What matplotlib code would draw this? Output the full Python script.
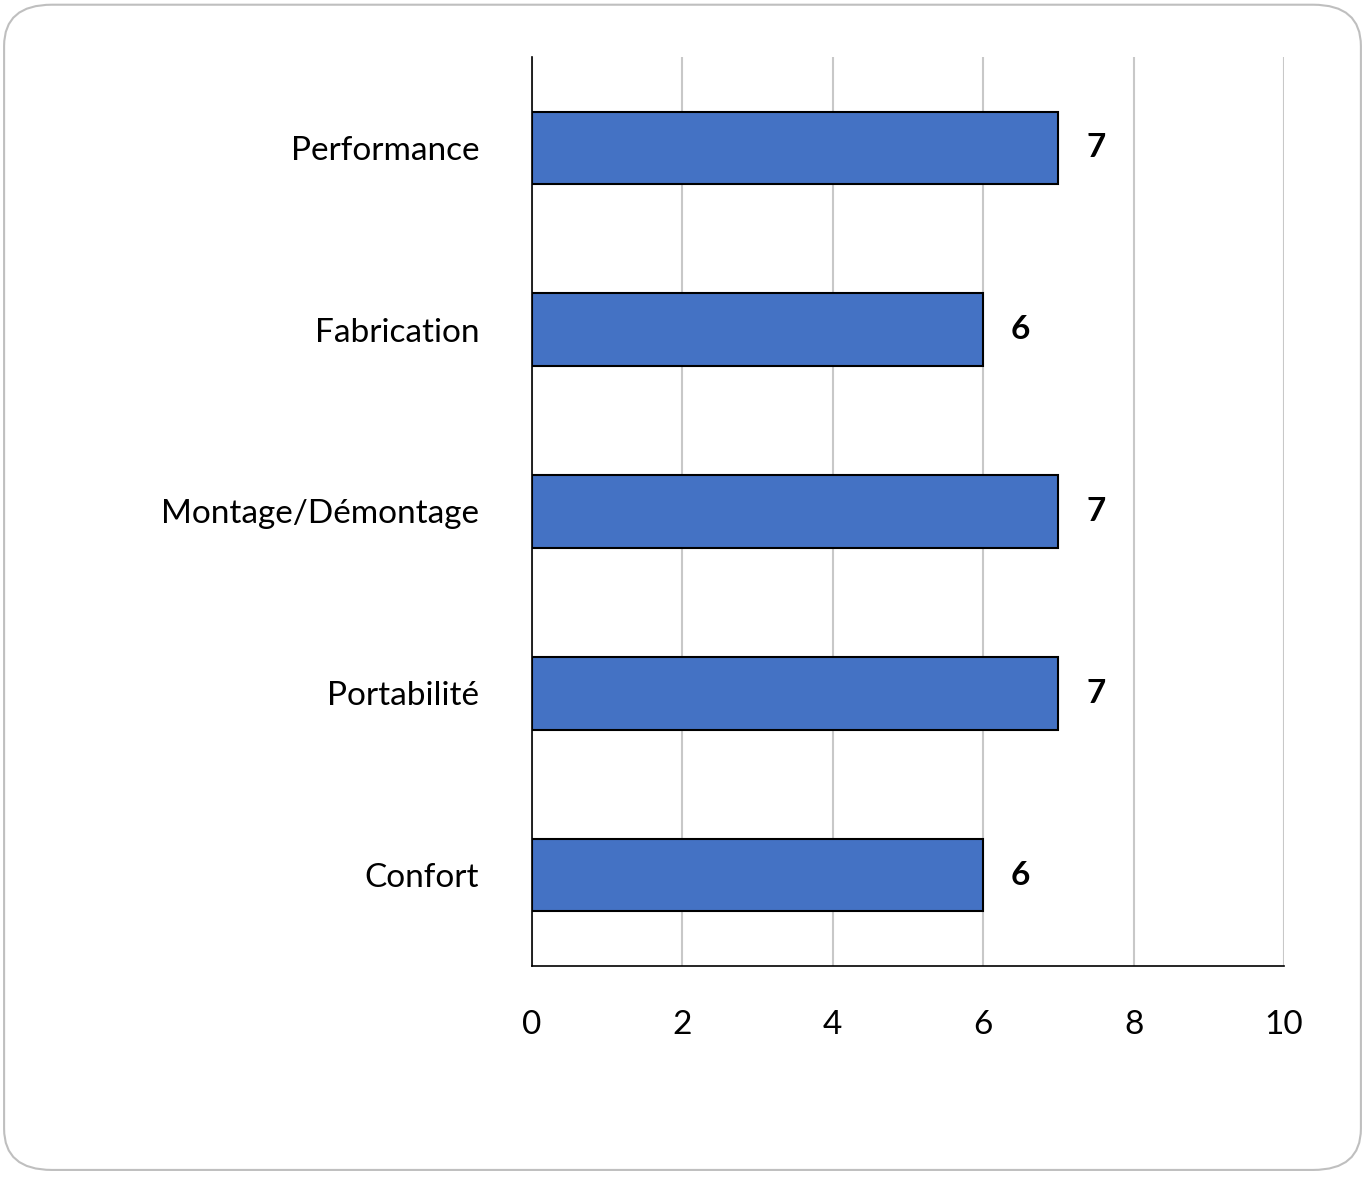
import matplotlib.pyplot as plt
from matplotlib.patches import FancyBboxPatch

categories = ["Performance", "Fabrication", "Montage/Démontage", "Portabilité", "Confort"]
values = [7, 6, 7, 7, 6]
xticks = [0, 2, 4, 6, 8, 10]

plt.rcParams['font.family'] = ['Lato', 'DejaVu Sans']

fig = plt.figure(figsize=(13.65, 11.77), dpi=100)
frame = FancyBboxPatch((0.003, 0.006), 0.994, 0.99, boxstyle="round,pad=0,rounding_size=0.035",
                       transform=fig.transFigure, facecolor='white', edgecolor='#bfbfbf',
                       linewidth=1.5, zorder=-10)
fig.patches.append(frame)

ax = fig.add_axes([0.3897, 0.1793, 0.551, 0.7723])
ax.set_zorder(5)
ax.set_facecolor('none')
pos = list(range(len(categories)))
ax.barh(pos, values, height=0.4, color='#4472C4', edgecolor='black', linewidth=1.5, zorder=3)
for p, v in zip(pos, values):
    ax.text(v + 0.37, p, str(v), va='center', ha='left', fontsize=24, fontweight='bold')

ax.set_xlim(0, 10)
ax.set_ylim(4.5, -0.5)
ax.set_yticks(pos)
ax.set_yticklabels(categories, fontsize=24)
ax.set_xticks(xticks)
ax.set_xticklabels([str(t) for t in xticks], fontsize=24)
ax.tick_params(length=0, pad=38, axis='y')
ax.tick_params(length=0, pad=32, axis='x')
ax.grid(axis='x', color='#c8c8c8', linewidth=1.5, zorder=0)
for s in ['top', 'right']:
    ax.spines[s].set_visible(False)
ax.spines['left'].set_linewidth(1.2)
ax.spines['bottom'].set_linewidth(1.2)

fig.savefig('out.png', dpi=100)
